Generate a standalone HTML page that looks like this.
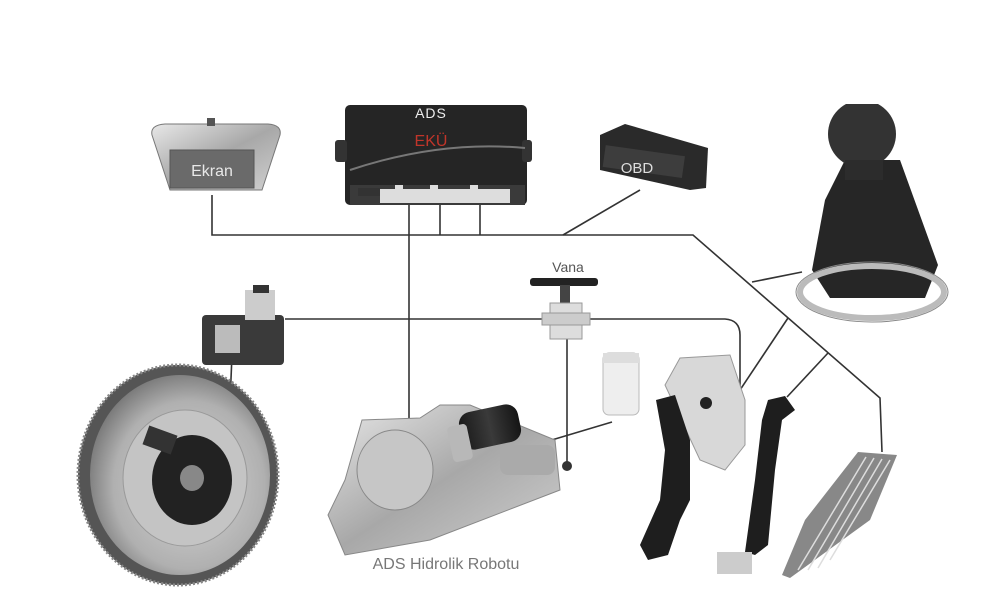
<!DOCTYPE html>
<html><head><meta charset="utf-8"><style>
html,body{margin:0;padding:0;background:#fff;}
svg{display:block;font-family:"Liberation Sans",sans-serif;}
</style></head><body>
<svg width="1000" height="605" viewBox="0 0 1000 605" xmlns="http://www.w3.org/2000/svg">
<rect width="1000" height="605" fill="#fff"/>
<defs>
<linearGradient id="met" x1="0" y1="0" x2="1" y2="1"><stop offset="0" stop-color="#e8e8e8"/><stop offset="0.5" stop-color="#a8a8a8"/><stop offset="1" stop-color="#d0d0d0"/></linearGradient>
<radialGradient id="fly" cx="0.55" cy="0.55" r="0.6"><stop offset="0" stop-color="#d8d8d8"/><stop offset="0.7" stop-color="#b0b0b0"/><stop offset="1" stop-color="#707070"/></radialGradient>
<linearGradient id="blk" x1="0" y1="0" x2="1" y2="0"><stop offset="0" stop-color="#1a1a1a"/><stop offset="0.5" stop-color="#3a3a3a"/><stop offset="1" stop-color="#151515"/></linearGradient>
<clipPath id="kc"><rect x="800" y="104" width="150" height="100"/></clipPath>
</defs>

<g stroke="#333" stroke-width="1.6" fill="none">
<polyline points="212,195 212,235 693,235 880,398 882,452"/>
<line x1="409" y1="200" x2="409" y2="425"/>
<line x1="440" y1="200" x2="440" y2="235"/>
<line x1="480" y1="200" x2="480" y2="235"/>
<line x1="640" y1="190" x2="563" y2="235"/>
<line x1="752" y1="282" x2="802" y2="272"/>
<line x1="788" y1="318" x2="738" y2="393"/>
<line x1="828" y1="353" x2="787" y2="397"/>
<path d="M285,319 L725,319 Q740,320 740,335 L740,392"/>
<line x1="567" y1="335" x2="567" y2="466"/>
<line x1="612" y1="422" x2="545" y2="442"/>
<line x1="232" y1="355" x2="228" y2="450"/>
</g>

<path d="M152,135 Q150,125 165,124 L268,124 Q282,125 280,135 L262,190 L170,190 Z" fill="url(#met)" stroke="#777"/>
<rect x="170" y="150" width="84" height="38" fill="#6a6a6a" stroke="#555"/>
<rect x="207" y="118" width="8" height="8" fill="#555"/>
<text x="212" y="176" font-size="16" fill="#e8e8e8" text-anchor="middle">Ekran</text>

<rect x="345" y="105" width="182" height="100" rx="5" fill="#252525"/>
<rect x="335" y="140" width="12" height="22" rx="3" fill="#333"/>
<rect x="522" y="140" width="10" height="22" rx="3" fill="#333"/>
<path d="M350,170 Q440,140 525,148" stroke="#777" stroke-width="2" fill="none"/>
<rect x="350" y="185" width="175" height="20" fill="#3a3a3a"/>
<rect x="358" y="188" width="22" height="8" fill="#333"/>
<rect x="380" y="189" width="130" height="14" fill="#ddd"/>
<rect x="395" y="185" width="8" height="5" fill="#ddd"/><rect x="430" y="185" width="8" height="5" fill="#ddd"/><rect x="470" y="185" width="8" height="5" fill="#ddd"/>
<text x="431" y="118" font-size="14" fill="#eee" text-anchor="middle" letter-spacing="1">ADS</text>
<text x="431" y="146" font-size="16" fill="#c0352a" text-anchor="middle">EKÜ</text>

<path d="M600,135 L625,124 L708,148 L706,188 L690,190 L600,170 Z" fill="#2a2a2a"/>
<rect x="604" y="150" width="80" height="22" fill="#3d3d3d" transform="rotate(8 640 160)"/>
<text x="637" y="173" font-size="15" fill="#ddd" text-anchor="middle">OBD</text>

<path d="M845,160 L825,200 L812,270 L830,298 L925,298 L938,265 L900,160 Z" fill="#262626"/>
<ellipse cx="872" cy="292" rx="72" ry="26" fill="none" stroke="#bbb" stroke-width="6"/>
<ellipse cx="872" cy="292" rx="76" ry="30" fill="none" stroke="#888" stroke-width="1"/>
<circle cx="862" cy="134" r="34" fill="#333" clip-path="url(#kc)"/>
<rect x="845" y="160" width="38" height="20" fill="#2c2c2c"/>

<rect x="202" y="315" width="82" height="50" rx="4" fill="#3a3a3a"/>
<rect x="245" y="290" width="30" height="30" fill="#ccc"/>
<rect x="253" y="285" width="16" height="8" fill="#333"/>
<rect x="215" y="325" width="25" height="28" fill="#bbb"/>

<ellipse cx="178" cy="475" rx="100" ry="110" fill="#555"/>
<ellipse cx="178" cy="475" rx="100" ry="110" fill="none" stroke="#888" stroke-width="3" stroke-dasharray="2 2"/>
<ellipse cx="180" cy="475" rx="90" ry="100" fill="url(#fly)"/>
<ellipse cx="185" cy="478" rx="62" ry="68" fill="#c4c4c4" stroke="#999"/>
<ellipse cx="192" cy="480" rx="40" ry="45" fill="#222"/>
<ellipse cx="192" cy="478" rx="12" ry="13" fill="#888"/>
<rect x="145" y="430" width="30" height="20" fill="#333" transform="rotate(20 160 440)"/>

<path d="M328,515 L345,480 L362,420 L420,418 L440,405 L470,405 L555,440 L560,490 L430,540 L345,555 Z" fill="url(#met)" stroke="#888"/>
<ellipse cx="395" cy="470" rx="38" ry="40" fill="#c6c6c6" stroke="#888"/>
<rect x="460" y="408" width="60" height="38" rx="12" fill="url(#blk)" transform="rotate(-12 490 427)"/>
<rect x="450" y="425" width="20" height="36" rx="4" fill="#b8b8b8" transform="rotate(-12 460 443)"/>
<rect x="500" y="445" width="55" height="30" rx="8" fill="#aaa"/>
<circle cx="567" cy="466" r="5" fill="#333"/>
<text x="446" y="569" font-size="16" fill="#777" text-anchor="middle">ADS Hidrolik Robotu</text>

<rect x="530" y="278" width="68" height="8" rx="3" fill="#222"/>
<rect x="560" y="285" width="10" height="20" fill="#444"/>
<rect x="550" y="303" width="32" height="36" fill="#ddd" stroke="#999"/>
<rect x="542" y="313" width="48" height="12" fill="#ccc" stroke="#999"/>
<text x="568" y="272" font-size="14" fill="#555" text-anchor="middle">Vana</text>

<rect x="603" y="353" width="36" height="62" rx="6" fill="#eee" stroke="#bbb"/>
<rect x="603" y="353" width="36" height="10" fill="#ddd"/>

<path d="M665,385 L680,358 L730,355 L745,400 L745,445 L725,470 L700,460 Z" fill="#d8d8d8" stroke="#999"/>
<path d="M656,400 L675,395 L690,440 L690,500 L680,520 L668,555 L648,560 L640,545 L660,500 L665,450 Z" fill="#1e1e1e"/>
<circle cx="706" cy="403" r="6" fill="#222"/>

<path d="M768,400 L785,396 L795,410 L782,420 L775,470 L768,545 L755,555 L745,552 L755,480 L762,420 Z" fill="#1e1e1e"/>
<rect x="717" y="552" width="35" height="22" fill="#ccc"/>

<path d="M858,452 L897,455 L870,520 L790,578 L782,575 L805,520 Z" fill="#888"/>
<g stroke="#ddd" stroke-width="1.5">
<line x1="866" y1="457" x2="798" y2="570"/><line x1="874" y1="458" x2="808" y2="570"/><line x1="882" y1="459" x2="818" y2="568"/><line x1="890" y1="460" x2="830" y2="560"/>
</g>
</svg>
</body></html>
